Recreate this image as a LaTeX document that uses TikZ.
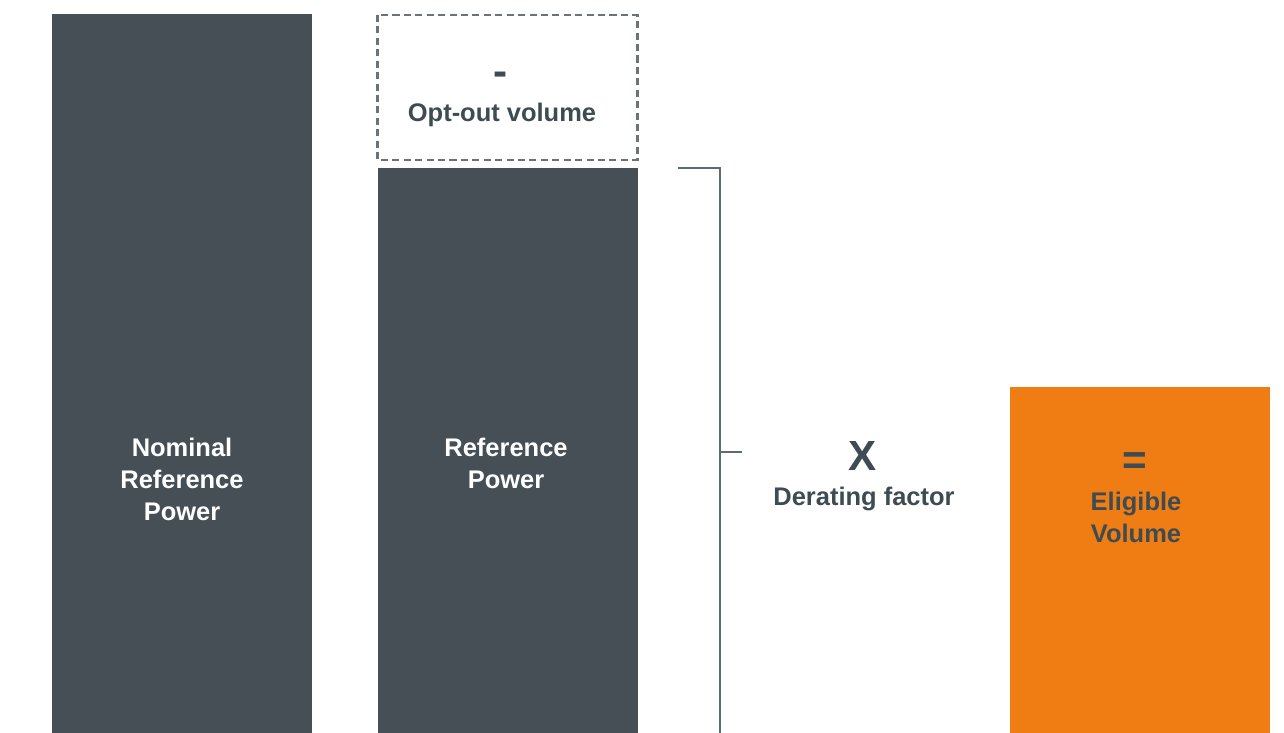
\documentclass[tikz,border=0pt]{standalone}
\usepackage{fontspec}
\setmainfont{Liberation Sans}
\definecolor{slate}{HTML}{454F55}
\definecolor{inkgray}{HTML}{3D4C53}
\definecolor{linegray}{HTML}{5E6A71}
\definecolor{dashgray}{HTML}{6A7378}
\definecolor{eligorange}{HTML}{EF7D14}
\tikzset{
  bar/.style={fill=#1,draw=none},
  dark bar/.style={bar=slate},
  orange bar/.style={bar=eligorange},
  lbl/.style={font=\bfseries\fontsize{14.5}{18.2}\selectfont,align=center,inner sep=0},
  op/.style={font=\bfseries\fontsize{24}{26}\selectfont,text=inkgray,inner sep=0},
  every picture/.style={line width=1pt},
}
\begin{document}
\begin{tikzpicture}[x=0.02cm,y=-0.02cm]
  \useasboundingbox (0,0) rectangle (1284,733);
  % the bars
  \fill[dark bar] (52,14) rectangle (312,733);
  \draw[dashgray,dashed,line width=1.4pt,dash pattern=on 4pt off 2.5pt] (377.5,15) rectangle (637.5,160);
  \fill[dark bar] (378,168) rectangle (638,733);
  \fill[orange bar] (1010,387) rectangle (1270,733);

  % labels
  \node[lbl,text=white] (nominal) at (182,479) {Nominal\\Reference\\Power};
  \node[lbl,text=white] (ref) at (506,463) {Reference\\Power};
  \node[op] (minus) at (501,79) {-};
  \node[lbl,text=inkgray] (optout) at (502,115) {Opt-out volume};
  \node[op] (times) at (863,456) {X};
  \node[lbl,text=inkgray] (derating) at (864,499) {Derating factor};
  \node[op] (equals) at (1135,464) {=};
  \node[lbl,text=inkgray] (eligible) at (1136,517) {Eligible\\Volume};

  % bracket round the reference power
  \coordinate (btop) at (678,168);
  \coordinate (bcorner) at (720,168);
  \coordinate (bbottom) at (720,733);
  \coordinate (bmid) at (720,452);
  \coordinate (btick) at (742,452);
  \draw[linegray,line width=1.6pt] (btop) -- (bcorner) -- (bbottom);
  \draw[linegray,line width=1.6pt] (bmid) -- (btick);
\end{tikzpicture}
\end{document}
